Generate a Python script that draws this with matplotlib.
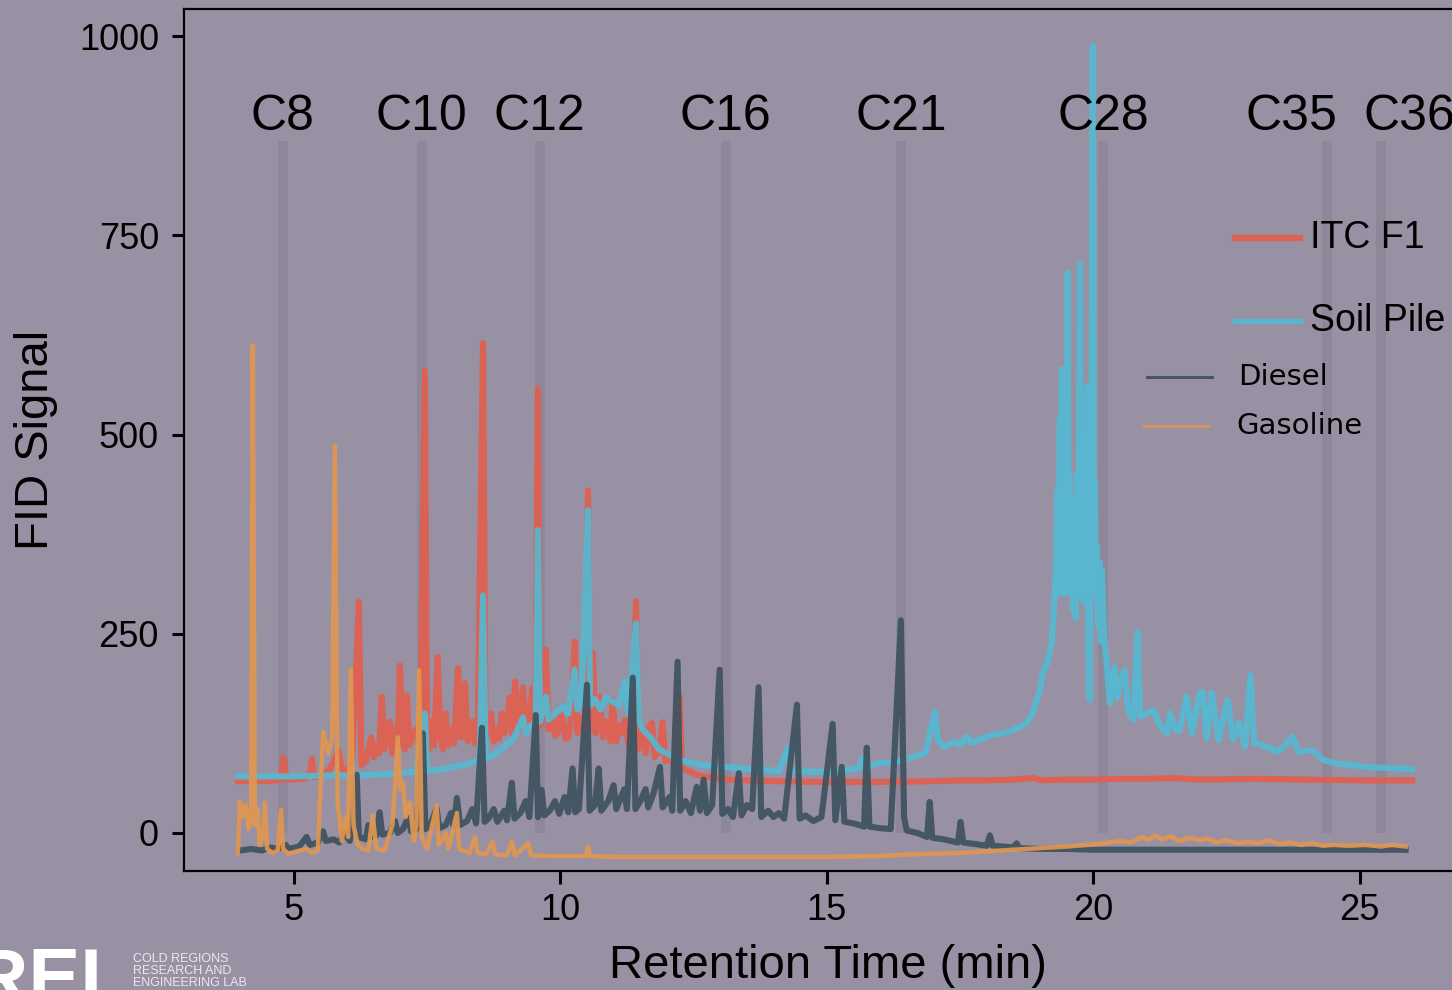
import numpy as np
import matplotlib
matplotlib.use("Agg")
import matplotlib.pyplot as plt
from matplotlib.lines import Line2D

plt.rcParams['font.family'] = ['Liberation Sans', 'DejaVu Sans']

BG = "#9891a3"
BAND = "#8d8799"

# carbon markers (retention time, min)
carbon_labels = ["C8", "C10", "C12", "C16", "C21", "C28", "C35", "C36"]
carbon_band_t = [4.79, 7.40, 9.61, 13.10, 16.39, 20.18, 24.38, 25.39]
carbon_text_t = [4.79, 7.40, 9.61, 13.10, 16.39, 20.18, 23.71, 25.94]
band_top = 868
label_y = 898

# (time, signal)
itc_f1 = [
    (3.95, 65), (4.2, 66), (4.5, 65), (4.75, 66), (4.81, 95), (4.86, 67), (5.0, 67),
    (5.2, 68), (5.30, 75), (5.34, 93), (5.38, 70), (5.5, 72), (5.65, 78), (5.75, 90),
    (5.84, 104), (5.90, 80), (6.0, 78), (6.10, 95), (6.22, 290), (6.27, 85), (6.35, 90),
    (6.45, 120), (6.50, 95), (6.55, 110), (6.60, 100), (6.65, 171), (6.70, 105),
    (6.75, 120), (6.80, 140), (6.85, 100), (6.90, 130), (6.95, 110), (6.99, 210),
    (7.04, 130), (7.08, 105), (7.12, 173), (7.17, 110), (7.23, 125), (7.30, 130),
    (7.34, 110), (7.38, 150), (7.46, 580), (7.50, 120), (7.54, 105), (7.58, 140),
    (7.63, 110), (7.70, 221), (7.75, 120), (7.80, 105), (7.85, 150), (7.90, 110),
    (7.95, 130), (8.01, 112), (8.08, 207), (8.14, 120), (8.21, 188), (8.26, 115),
    (8.30, 125), (8.35, 140), (8.40, 112), (8.45, 125), (8.55, 615), (8.60, 120),
    (8.65, 135), (8.70, 150), (8.75, 115), (8.80, 130), (8.85, 118), (8.90, 150),
    (8.95, 125), (9.00, 140), (9.05, 170), (9.10, 125), (9.15, 190), (9.22, 130),
    (9.26, 150), (9.30, 183), (9.36, 130), (9.42, 150), (9.48, 182), (9.53, 130),
    (9.58, 557), (9.62, 135), (9.68, 150), (9.73, 230), (9.78, 130), (9.82, 150),
    (9.86, 145), (9.90, 122), (9.95, 125), (10.00, 150), (10.05, 140), (10.10, 118),
    (10.15, 120), (10.20, 145), (10.27, 240), (10.32, 125), (10.36, 145), (10.40, 135),
    (10.46, 120), (10.52, 430), (10.56, 130), (10.61, 226), (10.66, 125), (10.70, 140),
    (10.74, 171), (10.80, 120), (10.85, 140), (10.90, 135), (10.94, 115), (10.98, 167),
    (11.05, 115), (11.10, 135), (11.15, 125), (11.21, 142), (11.28, 110), (11.34, 125),
    (11.42, 291), (11.47, 105), (11.51, 120), (11.55, 133), (11.60, 100), (11.68, 135),
    (11.72, 138), (11.77, 95), (11.81, 108), (11.85, 100), (11.92, 139), (11.97, 90),
    (12.01, 100), (12.05, 95), (12.10, 88), (12.15, 85), (12.24, 171), (12.28, 82),
    (12.4, 78), (12.6, 72), (12.8, 70), (13.0, 68), (13.2, 67), (13.5, 66), (14.0, 65),
    (15.0, 64), (16.0, 64), (17.0, 65), (17.5, 66), (18.0, 66), (18.5, 67), (18.9, 69),
    (19.0, 66), (19.5, 67), (20.0, 67), (20.5, 68), (21.0, 68), (21.5, 69), (22.0, 67),
    (23.0, 68), (24.0, 67), (25.0, 66), (25.98, 66),
]

soil_pile = [
    (3.95, 71), (4.5, 71), (5.0, 71), (5.5, 72), (6.0, 72), (6.5, 73), (7.0, 75),
    (7.30, 77), (7.46, 150), (7.50, 78), (7.8, 80), (8.0, 83), (8.3, 87), (8.49, 92),
    (8.55, 298), (8.60, 93), (8.75, 98), (8.90, 105), (9.0, 112), (9.11, 117),
    (9.20, 130), (9.30, 145), (9.36, 125), (9.43, 133), (9.54, 140), (9.58, 380),
    (9.62, 140), (9.73, 171), (9.78, 142), (9.90, 150), (10.05, 158), (10.15, 150),
    (10.27, 205), (10.32, 155), (10.40, 163), (10.52, 405), (10.56, 160), (10.65, 168),
    (10.75, 155), (10.85, 170), (10.98, 165), (11.10, 160), (11.21, 190), (11.28, 150),
    (11.42, 263), (11.47, 140), (11.55, 130), (11.62, 125), (11.72, 118), (11.85, 105),
    (12.0, 100), (12.19, 92), (12.4, 89), (12.6, 86), (12.9, 84), (13.24, 82),
    (13.6, 80), (13.87, 79), (14.1, 78), (14.27, 107), (14.32, 78), (14.6, 77),
    (15.0, 77), (15.4, 79), (15.62, 82), (15.66, 94), (15.70, 82), (16.0, 88),
    (16.24, 88), (16.6, 95), (16.85, 100), (17.03, 152), (17.08, 117), (17.2, 108),
    (17.4, 115), (17.5, 110), (17.62, 121), (17.7, 113), (17.9, 118), (18.1, 123),
    (18.3, 125), (18.5, 129), (18.75, 138), (18.86, 150), (19.0, 180), (19.05, 200),
    (19.13, 213), (19.22, 238), (19.26, 280), (19.30, 330), (19.33, 432), (19.35, 300),
    (19.37, 520), (19.39, 380), (19.41, 582), (19.43, 340), (19.45, 470), (19.47, 300),
    (19.50, 420), (19.52, 703), (19.54, 330), (19.56, 450), (19.58, 300), (19.60, 420),
    (19.62, 280), (19.65, 380), (19.67, 270), (19.70, 450), (19.72, 300), (19.75, 714),
    (19.77, 330), (19.80, 420), (19.82, 290), (19.84, 500), (19.86, 310), (19.88, 560),
    (19.90, 280), (19.93, 167), (19.96, 400), (19.99, 987), (20.01, 380), (20.03, 440),
    (20.05, 300), (20.07, 360), (20.09, 260), (20.12, 340), (20.14, 240), (20.16, 330),
    (20.20, 250), (20.25, 213), (20.31, 163), (20.40, 208), (20.45, 170), (20.50, 190),
    (20.59, 204), (20.65, 155), (20.75, 142), (20.83, 252), (20.88, 146), (21.0, 150),
    (21.12, 154), (21.25, 135), (21.38, 125), (21.44, 150), (21.55, 128), (21.62, 129),
    (21.75, 171), (21.85, 125), (22.0, 176), (22.05, 177), (22.13, 119), (22.22, 176),
    (22.35, 117), (22.52, 167), (22.62, 117), (22.73, 139), (22.85, 108), (22.95, 198),
    (23.02, 113), (23.26, 108), (23.45, 102), (23.6, 110), (23.74, 121), (23.85, 102),
    (24.12, 104), (24.3, 92), (24.49, 88), (25.13, 83), (25.98, 80),
]

diesel = [
    (3.99, -22), (4.2, -20), (4.4, -22), (4.55, -18), (4.7, -20), (4.85, -15), (4.9, -20),
    (5.1, -17), (5.24, -5), (5.3, -15), (5.45, -12), (5.55, 2), (5.6, -10), (5.75, -8),
    (5.85, -12), (5.95, 0), (6.05, -10), (6.18, 73), (6.22, -5), (6.35, -8), (6.40, 10),
    (6.45, -5), (6.55, -3), (6.61, 26), (6.66, -2), (6.80, 0), (6.90, 15), (6.95, 0),
    (7.05, 5), (7.15, 20), (7.2, 2), (7.30, 5), (7.42, 125), (7.47, 5), (7.55, 8),
    (7.68, 31), (7.73, 6), (7.85, 10), (7.95, 25), (8.0, 8), (8.06, 44), (8.12, 10),
    (8.25, 15), (8.35, 30), (8.42, 12), (8.53, 132), (8.58, 14), (8.65, 18), (8.75, 30),
    (8.82, 14), (8.95, 28), (9.00, 16), (9.09, 63), (9.14, 18), (9.25, 25), (9.35, 40),
    (9.42, 20), (9.54, 148), (9.58, 20), (9.65, 54), (9.70, 22), (9.80, 28), (9.90, 40),
    (9.98, 24), (10.08, 45), (10.15, 26), (10.23, 81), (10.28, 26), (10.35, 30),
    (10.50, 186), (10.55, 28), (10.65, 35), (10.72, 81), (10.77, 28), (10.90, 40),
    (11.0, 60), (11.05, 30), (11.2, 55), (11.25, 30), (11.36, 195), (11.41, 30),
    (11.5, 40), (11.6, 55), (11.65, 32), (11.75, 50), (11.87, 83), (11.92, 32),
    (12.05, 45), (12.1, 28), (12.20, 215), (12.25, 28), (12.35, 40), (12.45, 25),
    (12.56, 58), (12.62, 28), (12.69, 67), (12.75, 25), (12.85, 35), (12.99, 205),
    (13.04, 24), (13.15, 30), (13.24, 20), (13.35, 75), (13.40, 22), (13.5, 35),
    (13.6, 30), (13.72, 183), (13.77, 20), (13.9, 28), (14.0, 20), (14.1, 25),
    (14.2, 18), (14.44, 161), (14.49, 18), (14.6, 22), (14.75, 15), (14.9, 20),
    (15.11, 137), (15.16, 16), (15.28, 83), (15.33, 14), (15.5, 12), (15.70, 8),
    (15.75, 107), (15.80, 8), (16.0, 6), (16.2, 5), (16.39, 267), (16.45, 20),
    (16.5, 3), (16.7, 0), (16.88, -5), (16.93, 39), (16.98, -6), (17.2, -8),
    (17.46, -12), (17.51, 14), (17.56, -12), (17.8, -14), (18.0, -16), (18.06, -3),
    (18.11, -16), (18.3, -17), (18.5, -18), (18.56, -13), (18.61, -19), (19.0, -20),
    (19.5, -20), (20.0, -21), (21.0, -21), (22.0, -21), (23.0, -21), (24.0, -21),
    (25.0, -21), (25.86, -21),
]

gasoline = [
    (3.95, -25), (3.99, 40), (4.05, 20), (4.10, 35), (4.15, 5), (4.20, 15), (4.23, 612),
    (4.27, 10), (4.32, 30), (4.36, -15), (4.42, -5), (4.46, 38), (4.50, -20), (4.60, -25),
    (4.70, -22), (4.76, 29), (4.80, -20), (4.90, -26), (5.00, -24), (5.11, -22),
    (5.24, -20), (5.34, -25), (5.45, -22), (5.55, 127), (5.65, 100), (5.72, 120),
    (5.77, 486), (5.82, 40), (5.90, -10), (5.97, 20), (6.02, -5), (6.07, 205), (6.12, 10),
    (6.20, -15), (6.30, -20), (6.40, -22), (6.48, 22), (6.55, -20), (6.70, -22),
    (6.85, 10), (6.90, 60), (6.95, 120), (7.00, 55), (7.05, 63), (7.10, 20), (7.18, 38),
    (7.25, -10), (7.30, 10), (7.35, 204), (7.40, -5), (7.50, -20), (7.68, 35),
    (7.72, -15), (7.85, 0), (7.90, -20), (8.06, 25), (8.10, -20), (8.30, -25), (8.40, -5),
    (8.45, -25), (8.60, -27), (8.73, -11), (8.78, -27), (9.00, -28), (9.09, -11),
    (9.15, -28), (9.40, -13), (9.45, -28), (9.80, -29), (10.10, -29), (10.48, -29),
    (10.52, -17), (10.56, -29), (11.0, -30), (12.0, -30), (13.0, -30), (14.0, -30),
    (15.0, -30), (16.0, -29), (16.5, -27), (17.0, -26), (17.5, -25), (18.0, -23),
    (18.5, -21), (19.0, -19), (19.5, -17), (19.9, -15), (20.2, -13), (20.5, -10),
    (20.7, -12), (20.9, -5), (21.05, -9), (21.15, -3), (21.3, -8), (21.45, -4),
    (21.6, -10), (21.8, -6), (22.0, -9), (22.15, -7), (22.3, -12), (22.5, -9),
    (22.7, -13), (22.9, -11), (23.1, -13), (23.3, -9), (23.5, -14), (23.7, -12),
    (23.9, -15), (24.1, -13), (24.3, -16), (24.5, -15), (24.8, -16), (25.1, -15),
    (25.4, -17), (25.6, -15), (25.86, -17),
]

x_ticks = [5, 10, 15, 20, 25]
y_ticks = [0, 250, 500, 750, 1000]

W, H = 1452, 990
fig = plt.figure(figsize=(W / 100, H / 100), dpi=100, facecolor=BG)
ax = fig.add_axes([184 / W, 1 - 871 / H, 1 - 184 / W, (871 - 9) / H], facecolor=BG)

# carbon marker bands
ax.vlines(carbon_band_t, 0, band_top, colors=BAND, linewidth=7, zorder=1)
for lab, t in zip(carbon_labels, carbon_text_t):
    ax.text(t, label_y, lab, ha="center", va="center", fontsize=36, zorder=6,
            clip_on=False)

series = [
    (itc_f1, "#e05f50", 4.4, 0.92, 2),
    (soil_pile, "#55b9d2", 4.4, 0.92, 3),
    (diesel, "#3e525f", 4.4, 0.92, 4),
    (gasoline, "#e19650", 3.2, 0.92, 5),
]
for pts, col, lw, a, z in series:
    t, y = np.array(pts).T
    ax.plot(t, y, color=col, lw=lw, alpha=a, zorder=z, solid_joinstyle="round")

ax.set_xlim(2.94, 26.73)
ax.set_ylim(-47.7, 1034)
ax.set_xticks(x_ticks)
ax.set_yticks(y_ticks)
ax.tick_params(axis="both", labelsize=26, length=9, width=2.2, direction="out")
ax.tick_params(axis="y", pad=9)
ax.tick_params(axis="x", pad=7)
for s in ["left", "bottom", "top"]:
    ax.spines[s].set_linewidth(1.6)
ax.spines["right"].set_visible(False)

ax.set_xlabel("Retention Time (min)", fontsize=34, va="center")
ax.xaxis.set_label_coords(828 / W, 1 - 966 / H, transform=fig.transFigure)
ax.set_ylabel("FID Signal", fontsize=34, va="center")
ax.yaxis.set_label_coords(36 / W, 1 - 440 / H, transform=fig.transFigure)

# legend, drawn by hand to match the mixed sizes
legend_rows = [
    ("ITC F1", "#e05f50", 4.5, 1235, 1300, 1310, 238, 27, "Liberation Sans"),
    ("Soil Pile", "#55b9d2", 3.8, 1235, 1300, 1310, 321, 27, "Liberation Sans"),
    ("Diesel", "#3e525f", 2.2, 1147, 1212, 1238, 377, 21, "DejaVu Sans"),
    ("Gasoline", "#e19650", 1.8, 1143, 1209, 1236, 426, 21, "DejaVu Sans"),
]
for lab, col, lw, x0, x1, xt, yy, fs, fam in legend_rows:
    fig.add_artist(Line2D([x0 / W, x1 / W], [1 - yy / H, 1 - yy / H],
                          color=col, lw=lw, alpha=0.92))
    fig.text(xt / W, 1 - yy / H, lab, ha="left", va="center", fontsize=fs, family=fam)

# logo, cut off at the corner as in the source image
fig.text(128 / W, 1 - 946 / H, "CRREL", ha="right", va="top", fontsize=56,
         fontweight="heavy", color="white")
fig.text(133 / W, 1 - 953 / H, "COLD REGIONS\nRESEARCH AND\nENGINEERING LAB",
         ha="left", va="top", fontsize=9, color="white", alpha=0.8, linespacing=1.0)

fig.savefig("out.png", dpi=100, facecolor=BG)
